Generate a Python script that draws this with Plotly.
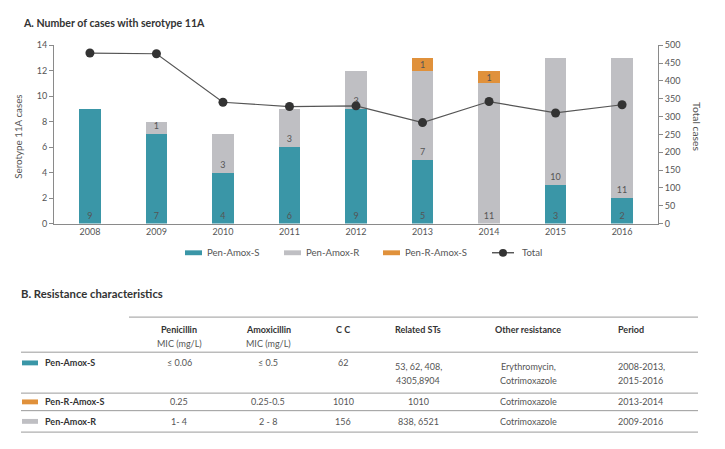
import plotly.graph_objects as go

# ---------------- data ----------------
years = ["2008", "2009", "2010", "2011", "2012", "2013", "2014", "2015", "2016"]
pen_amox_s = [9, 7, 4, 6, 9, 5, 0, 3, 2]
pen_amox_r = [0, 1, 3, 3, 3, 7, 11, 10, 11]
pen_r_amox_s = [0, 0, 0, 0, 0, 1, 1, 0, 0]
total_cases = [478, 476, 340, 328, 330, 283, 342, 310, 333]

left_ticks = [0, 2, 4, 6, 8, 10, 12, 14]
right_ticks = [0, 50, 100, 150, 200, 250, 300, 350, 400, 450, 500]

series_names = ["Pen-Amox-S", "Pen-Amox-R", "Pen-R-Amox-S", "Total"]

table_headers = ["Penicillin", "Amoxicillin", "C C", "Related STs", "Other resistance", "Period"]
table_subheaders = ["MIC (mg/L)", "MIC (mg/L)", "", "", "", ""]
row_names = ["Pen-Amox-S", "Pen-R-Amox-S", "Pen-Amox-R"]
col_penicillin = ["≤ 0.06", "0.25", "1- 4"]
col_amoxicillin = ["≤ 0.5", "0.25-0.5", "2 - 8"]
col_cc = ["62", "1010", "156"]
col_related = ["53, 62, 408,<br>4305,8904", "1010", "838, 6521"]
col_other = ["Erythromycin,<br>Cotrimoxazole", "Cotrimoxazole", "Cotrimoxazole"]
col_period = ["2008-2013,<br>2015-2016", "2013-2014", "2009-2016"]

# ---------------- styles ----------------
# page body has an 8px margin: draw in a 709x433 figure offset by (8, 8)
OX, OY = 8, 8
FW, FH = 709, 433
TEAL = "#3a96a7"
GRAY = "#bfbfc3"
ORANGE = "#e0913b"
TXT = "#555555"
DARK = "#333333"
FONT = "Lato, Open Sans, sans-serif"
row_colors = [TEAL, ORANGE, GRAY]


def px(x):
    return (x - OX) / FW


def py(y):
    return 1 - (y - OY) / FH


def lab(vals):
    return [str(v) if v else "" for v in vals]


def note(text, x, y, xanchor="center", size=9, color=TXT, family=FONT, **kw):
    return dict(text=text, x=px(x), y=py(y), xref="paper", yref="paper",
                xanchor=xanchor, yanchor="middle", showarrow=False,
                font=dict(size=size, color=color, family=family), **kw)


fig = go.Figure()
bar_common = dict(textposition="inside", textangle=0, cliponaxis=False, constraintext="none",
                  textfont=dict(size=9, color=TXT, family=FONT), showlegend=False,
                  marker_line_width=0)
fig.add_trace(go.Bar(x=years, y=pen_amox_s, name=series_names[0], marker_color=TEAL,
                     text=lab(pen_amox_s), insidetextanchor="start", **bar_common))
fig.add_trace(go.Bar(x=years, y=pen_amox_r, name=series_names[1], marker_color=GRAY,
                     text=lab(pen_amox_r), insidetextanchor="start", **bar_common))
fig.add_trace(go.Bar(x=years, y=pen_r_amox_s, name=series_names[2], marker_color=ORANGE,
                     text=lab(pen_r_amox_s), insidetextanchor="middle", **bar_common))
fig.add_trace(go.Scatter(x=years, y=total_cases, name=series_names[3], yaxis="y2",
                         mode="lines+markers", showlegend=False,
                         line=dict(color="#555555", width=1.2),
                         marker=dict(size=9, color=DARK)))

axis_common = dict(showline=True, linecolor="#8a8a8a", linewidth=1, showgrid=False,
                   zeroline=False, ticks="outside", ticklen=4, tickcolor="#8a8a8a",
                   tickfont=dict(size=9, color=TXT, family=FONT))

fig.update_layout(
    width=FW, height=FH, margin=dict(l=0, r=0, t=0, b=0),
    paper_bgcolor="white", plot_bgcolor="white",
    barmode="stack", bargap=0.68,
    xaxis=dict(domain=[px(54), px(658)], range=[-0.54, 8.54], type="category",
               showline=True, linecolor="#8a8a8a", ticks="", showgrid=False,
               tickfont=dict(size=9, color=TXT, family=FONT)),
    yaxis=dict(domain=[py(223), py(40)], range=[0, 14], tickvals=left_ticks, **axis_common),
    yaxis2=dict(domain=[py(223), py(40)], range=[0, 500], tickvals=right_ticks,
                overlaying="y", side="right", **axis_common),
)

ann = []
shapes = []
# titles
ann.append(note("<b>A. Number of cases with serotype 11A</b>", 21, 17, "left", 10.6, DARK))
ann.append(note("<b>B. Resistance characteristics</b>", 19, 295, "left", 11.3, DARK))
# axis titles
ann.append(note("Serotype 11A cases", 18, 134, size=9.8, textangle=-90))
ann.append(note("Total cases", 697, 123, size=10.3, textangle=90))

# legend (manual)
leg_x = [185, 284, 383]
for i, c in enumerate([TEAL, GRAY, ORANGE]):
    shapes.append(dict(type="rect", xref="paper", yref="paper", x0=px(leg_x[i]), x1=px(leg_x[i] + 17),
                       y0=py(255.5), y1=py(250.5), fillcolor=c, line_width=0))
    ann.append(note(series_names[i], leg_x[i] + 20, 253, "left", 9.6))
shapes.append(dict(type="line", xref="paper", yref="paper", x0=px(492), x1=px(514), y0=py(253), y1=py(253),
                   line=dict(color=DARK, width=1.2)))
shapes.append(dict(type="circle", xref="paper", yref="paper", x0=px(499), x1=px(507), y0=py(257), y1=py(249),
                   fillcolor=DARK, line_width=0))
ann.append(note(series_names[3], 520, 253, "left", 9.6))

# table lines
for (y, x0) in [(319, 129), (355, 21), (397, 21), (415, 21), (437, 21)]:
    shapes.append(dict(type="line", xref="paper", yref="paper", x0=px(x0), x1=px(698), y0=py(y), y1=py(y),
                       line=dict(color="#9a9a9a", width=1)))

col_x = [179, 268, 343, 418, 528, 616]
col_anchor = ["center", "center", "center", "center", "center", "left"]
cols = [col_penicillin, col_amoxicillin, col_cc, col_related, col_other, col_period]
for j, h in enumerate(table_headers):
    ann.append(note("<b>" + h + "</b>", col_x[j], 332, col_anchor[j], 9, DARK))
    if table_subheaders[j]:
        ann.append(note(table_subheaders[j], col_x[j], 346, col_anchor[j], 9))

row_y = [366, 406, 426]
multi_y = [370, 384]
for i, name in enumerate(row_names):
    shapes.append(dict(type="rect", xref="paper", yref="paper", x0=px(22), x1=px(38),
                       y0=py(row_y[i] + 2.5), y1=py(row_y[i] - 2.5), fillcolor=row_colors[i], line_width=0))
    ann.append(note("<b>" + name + "</b>", 43, row_y[i], "left", 9, DARK))
    for j, col in enumerate(cols):
        parts = col[i].split("<br>")
        if len(parts) == 1:
            ann.append(note(parts[0], col_x[j], row_y[i], col_anchor[j], 9))
        else:
            for k, p in enumerate(parts):
                ann.append(note(p, col_x[j], multi_y[k], col_anchor[j], 9))

fig.update_layout(annotations=ann, shapes=shapes)
fig.write_html("out.html")
